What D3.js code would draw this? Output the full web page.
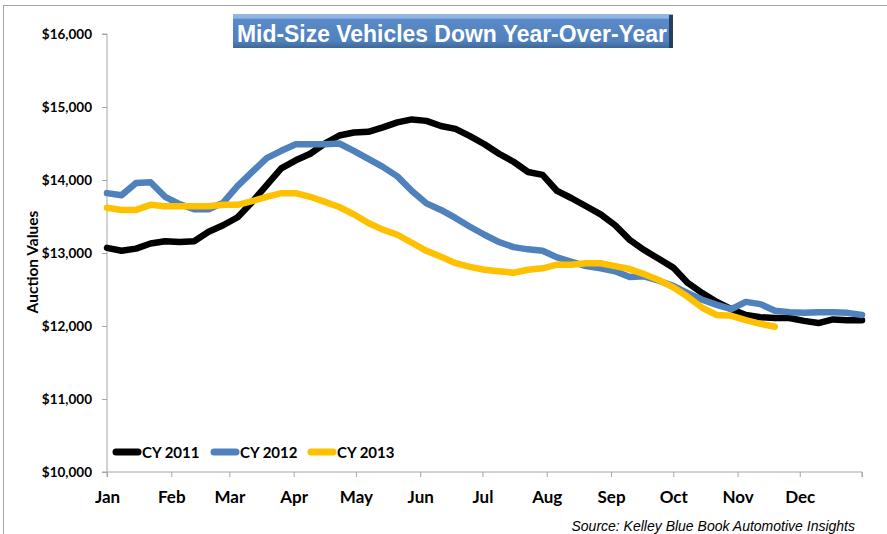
<!DOCTYPE html>
<html>
<head>
<meta charset="utf-8">
<script src="https://cdn.jsdelivr.net/npm/d3@7"></script>
<style>
  body { margin: 0; background: #fff; }
  svg { display: block; }
</style>
</head>
<body>
<svg id="chart" width="887" height="534"></svg>
<script>
const svg = d3.select('#chart')

// data, weekly auction values
const monthLabels = ['Jan','Feb','Mar','Apr','May','Jun','Jul','Aug','Sep','Oct','Nov','Dec']
const yTicks = [10000, 11000, 12000, 13000, 14000, 15000, 16000]
const seriesNames = ['CY 2011', 'CY 2012', 'CY 2013']

const cy2011 = [13070,13030,13060,13130,13160,13150,13160,13290,13380,13490,
  13700,13930,14160,14270,14360,14500,14610,14650,14660,14720,
  14790,14830,14810,14740,14700,14600,14490,14360,14250,14110,
  14070,13850,13750,13640,13530,13380,13180,13040,12920,12800,
  12590,12450,12330,12230,12150,12120,12110,12110,12070,12040,
  12090,12080,12080]
const cy2012 = [13820,13790,13960,13970,13770,13670,13600,13600,13690,13920,
  14110,14300,14400,14490,14490,14490,14500,14400,14290,14180,
  14050,13850,13680,13590,13480,13360,13250,13150,13080,13050,
  13030,12940,12880,12820,12790,12750,12670,12680,12620,12550,
  12450,12360,12290,12230,12330,12300,12210,12190,12180,12190,
  12190,12180,12150]
const cy2013 = [13620,13590,13590,13660,13640,13640,13640,13640,13660,13660,
  13710,13770,13820,13820,13770,13700,13630,13530,13410,13320,
  13250,13140,13030,12950,12860,12810,12770,12750,12730,12770,
  12790,12840,12840,12860,12860,12820,12780,12710,12630,12530,
  12400,12250,12150,12140,12080,12030,11990]

const colors = ['#000000', '#4f81bd', '#ffc000']

const start = new Date(2013, 0, 1)
const end = new Date(2013, 11, 31)
const weekDate = i => d3.timeDay.offset(start, i * 7)

const plotLeft = 107, plotRight = 862, plotTop = 34, plotBottom = 472

const x = d3.scaleTime().domain([start, end]).range([plotLeft, plotRight])
const y = d3.scaleLinear().domain([10000, 16000]).range([plotBottom, plotTop])

// outer frame
svg.append('rect')
  .attr('x', 3.5).attr('y', 5.5)
  .attr('width', 900).attr('height', 540)
  .attr('fill', 'none').attr('stroke', '#a6a6a6')

// y axis
const yAxis = d3.axisLeft(y).tickValues(yTicks).tickSize(5).tickPadding(10)
  .tickFormat(d => '$' + d3.format(',')(d))
const gy = svg.append('g').attr('transform', `translate(${plotLeft},0)`).call(yAxis)
gy.select('.domain').attr('stroke', '#a6a6a6').attr('d', `M-5,${plotTop}H0V${plotBottom}H-5`)
gy.selectAll('.tick line').attr('stroke', '#a6a6a6')
gy.selectAll('.tick text')
  .attr('font-family', 'Lato, sans-serif').attr('font-weight', 'bold')
  .attr('font-size', 13.5).attr('fill', '#000')

// x axis
const monthStarts = d3.timeMonth.range(start, end)
const xAxis = d3.axisBottom(x).tickValues(monthStarts.concat([end])).tickSize(5).tickPadding(14)
  .tickFormat((d, i) => monthLabels[i] || '')
const gx = svg.append('g').attr('transform', `translate(0,${plotBottom})`).call(xAxis)
gx.select('.domain').attr('stroke', '#a6a6a6').attr('d', `M${plotLeft},5V0H${plotRight}V5`)
gx.selectAll('.tick line').attr('stroke', '#a6a6a6')
gx.selectAll('.tick text')
  .attr('font-family', 'Lato, sans-serif').attr('font-weight', 'bold')
  .attr('font-size', 17).attr('fill', '#000')

// axis title
svg.append('text')
  .attr('transform', 'translate(38,262) rotate(-90)')
  .attr('text-anchor', 'middle')
  .attr('font-family', 'Lato, sans-serif').attr('font-weight', 'bold')
  .attr('font-size', 15.5)
  .text('Auction Values')

// lines
const line = d3.line()
  .x((d, i) => x(weekDate(i)))
  .y(d => y(d))

const allSeries = [cy2011, cy2012, cy2013]
svg.selectAll('path.series')
  .data(allSeries)
  .enter()
  .append('path')
    .attr('class', 'series')
    .attr('d', d => line(d))
    .attr('fill', 'none')
    .attr('stroke', (d, i) => colors[i])
    .attr('stroke-width', 6.5)
    .attr('stroke-linejoin', 'round')
    .attr('stroke-linecap', 'round')

// legend
const legendX = [113, 211, 308]
const legend = svg.selectAll('g.legend')
  .data(seriesNames)
  .enter()
  .append('g')
    .attr('class', 'legend')
    .attr('transform', (d, i) => `translate(${legendX[i]},452)`)
legend.append('line')
  .attr('x1', 3).attr('x2', 25).attr('y1', 0).attr('y2', 0)
  .attr('stroke', (d, i) => colors[i])
  .attr('stroke-width', 7).attr('stroke-linecap', 'round')
legend.append('text')
  .attr('x', 29).attr('y', 5.5)
  .attr('font-family', 'Lato, sans-serif').attr('font-weight', 'bold')
  .attr('font-size', 15)
  .text(d => d)

// title box
const defs = svg.append('defs')
const grad = defs.append('linearGradient').attr('id', 'tg')
  .attr('x1', 0).attr('x2', 0).attr('y1', 0).attr('y2', 1)
grad.append('stop').attr('offset', '0%').attr('stop-color', '#95b8e3')
grad.append('stop').attr('offset', '12%').attr('stop-color', '#8db3e2')
grad.append('stop').attr('offset', '16%').attr('stop-color', '#5a8ac8')
grad.append('stop').attr('offset', '80%').attr('stop-color', '#4f81bd')
grad.append('stop').attr('offset', '100%').attr('stop-color', '#3f6797')

svg.append('rect')
  .attr('x', 233).attr('y', 14).attr('width', 440).attr('height', 34)
  .attr('fill', 'url(#tg)')
svg.append('rect')
  .attr('x', 669).attr('y', 15).attr('width', 4).attr('height', 33)
  .attr('fill', '#243f60')
svg.append('text')
  .attr('x', 237).attr('y', 42)
  .attr('textLength', 430).attr('lengthAdjust', 'spacingAndGlyphs')
  .attr('font-family', '"Liberation Sans", Arial, sans-serif').attr('font-weight', 'bold')
  .attr('font-size', 24).attr('fill', '#fff')
  .text('Mid-Size Vehicles Down Year-Over-Year')

// source
svg.append('text')
  .attr('x', 855).attr('y', 531)
  .attr('text-anchor', 'end')
  .attr('font-family', '"Liberation Sans", Arial, sans-serif').attr('font-style', 'italic')
  .attr('font-size', 14)
  .text('Source: Kelley Blue Book Automotive Insights')
</script>
</body>
</html>
